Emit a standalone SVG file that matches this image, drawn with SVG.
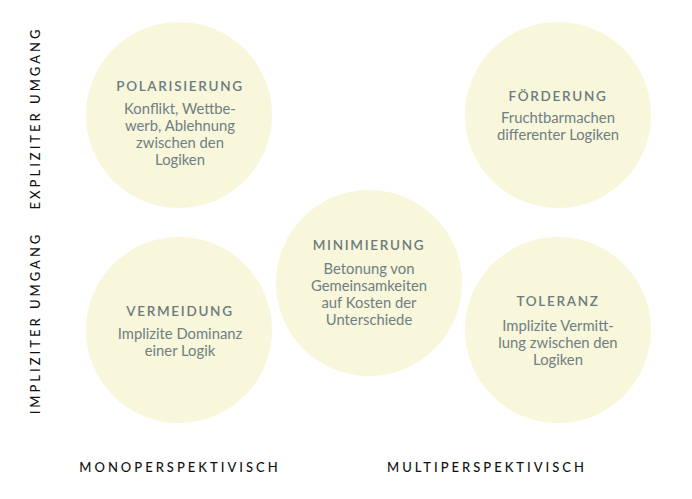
<svg xmlns="http://www.w3.org/2000/svg" width="692" height="499" viewBox="0 0 692 499">
<style>
.c{fill:#f8f6db}
.t{font-family:Lato,"Liberation Sans",sans-serif;font-size:13.5px;font-weight:600;letter-spacing:1.7px;fill:#6b7b7e;text-anchor:middle}
.b{font-family:Lato,"Liberation Sans",sans-serif;font-size:14.8px;fill:#6f7f82;text-anchor:middle}
.a{font-family:Lato,"Liberation Sans",sans-serif;font-size:13px;font-weight:500;letter-spacing:3px;fill:#111;text-anchor:middle}
</style>
<rect width="692" height="499" fill="#fff"/>
<g id="polarisierung">
<circle class="c" cx="179" cy="115" r="93"/>
<text class="t" x="180" y="91">POLARISIERUNG</text>
<text class="b" x="180" y="114">Konflikt, Wettbe-</text>
<text class="b" x="180" y="131">werb, Ablehnung</text>
<text class="b" x="180" y="148">zwischen den</text>
<text class="b" x="180" y="165">Logiken</text>
</g>
<g id="foerderung">
<circle class="c" cx="558" cy="115" r="93"/>
<text class="t" x="558" y="101">FÖRDERUNG</text>
<text class="b" x="558" y="123">Fruchtbarmachen</text>
<text class="b" x="558" y="140">differenter Logiken</text>
</g>
<g id="minimierung">
<circle class="c" cx="369" cy="283" r="93"/>
<text class="t" x="369" y="250">MINIMIERUNG</text>
<text class="b" x="369" y="274">Betonung von</text>
<text class="b" x="369" y="291">Gemeinsamkeiten</text>
<text class="b" x="369" y="308">auf Kosten der</text>
<text class="b" x="369" y="325">Unterschiede</text>
</g>
<g id="vermeidung">
<circle class="c" cx="179" cy="330" r="93"/>
<text class="t" x="180" y="316">VERMEIDUNG</text>
<text class="b" x="180" y="339">Implizite Dominanz</text>
<text class="b" x="180" y="356">einer Logik</text>
</g>
<g id="toleranz">
<circle class="c" cx="558" cy="330" r="93"/>
<text class="t" x="558" y="306">TOLERANZ</text>
<text class="b" x="558" y="331">Implizite Vermitt-</text>
<text class="b" x="558" y="348">lung zwischen den</text>
<text class="b" x="558" y="365">Logiken</text>
</g>
<g id="axes">
<text class="a" transform="translate(40,118) rotate(-90)">EXPLIZITER UMGANG</text>
<text class="a" transform="translate(40,323) rotate(-90)">IMPLIZITER UMGANG</text>
<text class="a" x="180" y="472">MONOPERSPEKTIVISCH</text>
<text class="a" x="487" y="472">MULTIPERSPEKTIVISCH</text>
</g>
<g id="connectors"></g>
</svg>
